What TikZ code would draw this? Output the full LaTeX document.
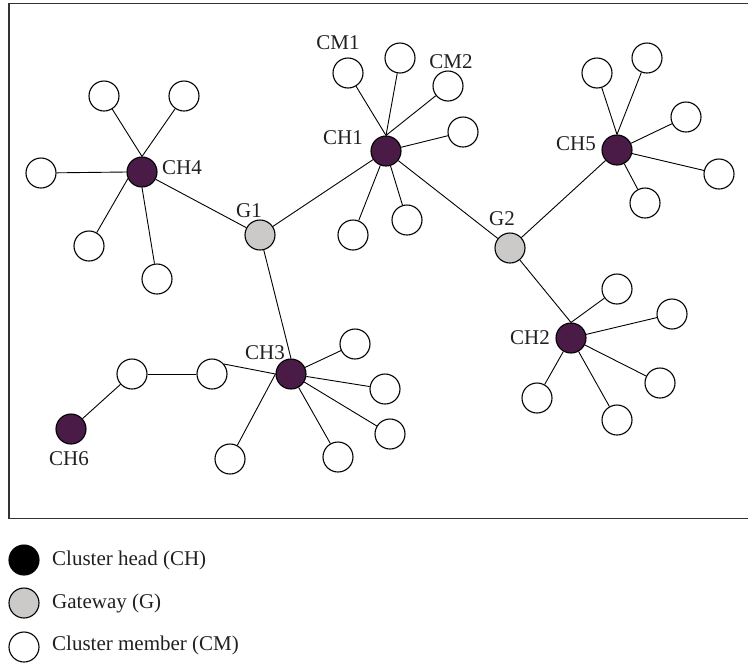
\documentclass[tikz,border=0pt]{standalone}
\usepackage{fontspec}
\setmainfont{Liberation Serif}
\definecolor{chfill}{RGB}{74,27,70}
\definecolor{gwfill}{RGB}{204,201,201}
\definecolor{txt}{RGB}{35,31,32}
\begin{document}
\begin{tikzpicture}[x=1pt,y=-1pt,
  base/.style={circle,draw=black,line width=1.1pt,minimum size=30pt,inner sep=0pt},
  chn/.style={base,fill=chfill},
  gwn/.style={base,fill=gwfill},
  cmn/.style={base,fill=white},
  lgh/.style={base,fill=black},
  lbl/.style={font=\fontsize{21}{25}\selectfont,text=txt,inner sep=0pt},
  lnk/.style={line width=0.9pt,black}]
\useasboundingbox (0,0) rectangle (748,665);
\draw[line width=1.5pt,black!80] (748,3.5) -- (9,3.5) -- (9,518.5) -- (748,518.5);
% cluster heads and gateways
\node[chn] (CH4) at (142,172) {};
\node[chn] (CH1) at (386,151) {};
\node[chn] (CH5) at (617,150) {};
\node[chn] (CH2) at (571,338) {};
\node[chn] (CH3) at (291,374) {};
\node[chn] (CH6) at (71,429) {};
\node[gwn] (G1) at (260,235) {};
\node[gwn] (G2) at (510,248) {};
% members
\node[cmn] (cm41) at (41,173) {};
\node[cmn] (cm42) at (104,96) {};
\node[cmn] (cm43) at (184,96) {};
\node[cmn] (cm44) at (89,246) {};
\node[cmn] (cm45) at (157,279) {};
\node[cmn] (cm11) at (348,73) {};
\node[cmn] (cm12) at (400,58) {};
\node[cmn] (cm13) at (448,86) {};
\node[cmn] (cm14) at (463,132) {};
\node[cmn] (cm15) at (407,220) {};
\node[cmn] (cm16) at (353,235) {};
\node[cmn] (cm51) at (597,73) {};
\node[cmn] (cm52) at (647,58) {};
\node[cmn] (cm53) at (686,117) {};
\node[cmn] (cm54) at (719,174) {};
\node[cmn] (cm55) at (645,203) {};
\node[cmn] (cm21) at (617,289) {};
\node[cmn] (cm22) at (672,314) {};
\node[cmn] (cm23) at (660,383) {};
\node[cmn] (cm24) at (617,420) {};
\node[cmn] (cm25) at (537,398) {};
\node[cmn] (cm31) at (355,344) {};
\node[cmn] (cm32) at (385,389) {};
\node[cmn] (cm33) at (390,434) {};
\node[cmn] (cm34) at (338,457) {};
\node[cmn] (cm35) at (230,459) {};
\node[cmn] (cm36) at (212,374) {};
\node[cmn] (cm37) at (132,374) {};
% links
\draw[lnk] (CH4) -- (G1);
\draw[lnk] (G1) -- (CH1);
\draw[lnk] (G1) -- (CH3.north);
\draw[lnk] (CH1) -- (G2);
\draw[lnk] (G2) -- (CH5);
\draw[lnk] (G2) -- (CH2.north);
\draw[lnk] (CH4.north) -- (cm42);
\draw[lnk] (CH4.north) -- (cm43);
\draw[lnk] (CH4.west) -- (cm41);
\draw[lnk] (CH4.205) -- (cm44);
\draw[lnk] (CH4.south) -- (cm45);
\foreach \m in {cm11,cm12,cm13} \draw[lnk] (CH1.north) -- (\m);
\foreach \m in {cm14,cm15,cm16} \draw[lnk] (CH1) -- (\m);
\foreach \m in {cm51,cm52} \draw[lnk] (CH5.north) -- (\m);
\foreach \m in {cm53,cm54,cm55} \draw[lnk] (CH5) -- (\m);
\draw[lnk] (CH2.north) -- (cm21);
\foreach \m in {cm22,cm23,cm24,cm25} \draw[lnk] (CH2) -- (\m);
\foreach \m in {cm31,cm32,cm33,cm34} \draw[lnk] (CH3) -- (\m);
\draw[lnk] (CH3.west) -- (cm35);
\draw[lnk] (CH3.west) -- (cm36.40);
\draw[lnk] (cm36) -- (cm37);
\draw[lnk] (cm37) -- (CH6);
% labels
\node[lbl] (lCH4) at (182,168) {CH4};
\node[lbl] (lG1) at (249,211) {G1};
\node[lbl] (lCM1) at (338,43) {CM1};
\node[lbl] (lCH1) at (343,138) {CH1};
\node[lbl] (lCM2) at (451,62) {CM2};
\node[lbl] (lG2) at (502,219) {G2};
\node[lbl] (lCH5) at (576,144) {CH5};
\node[lbl] (lCH2) at (530,338) {CH2};
\node[lbl] (lCH3) at (265,353) {CH3};
\node[lbl] (lCH6) at (69,459) {CH6};
% legend
\node[lgh] (kCH) at (24,560) {};
\node[gwn] (kG) at (24,603) {};
\node[cmn] (kCM) at (24,647) {};
\node[lbl,anchor=west] (tCH) at (52,560) {Cluster head (CH)};
\node[lbl,anchor=west] (tG) at (52,603) {Gateway (G)};
\node[lbl,anchor=west] (tCM) at (52,645) {Cluster member (CM)};
\end{tikzpicture}
\end{document}
